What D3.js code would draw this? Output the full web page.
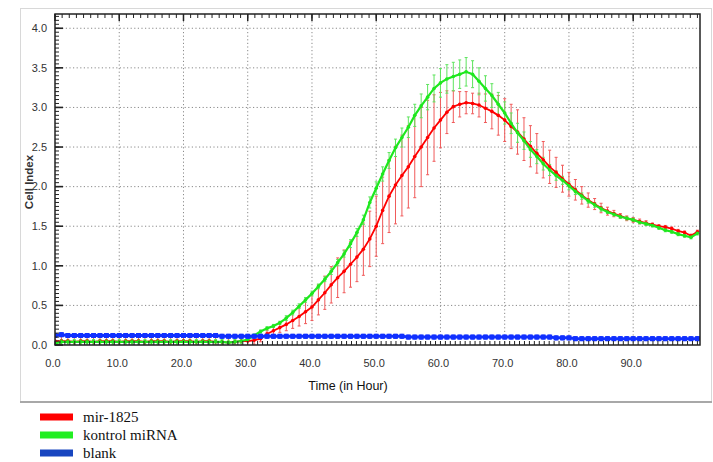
<!DOCTYPE html>
<html>
<head>
<meta charset="utf-8">
<script src="https://cdn.jsdelivr.net/npm/d3@7"></script>
<style>
  body { margin: 0; background: #fff; }
  svg { display: block; }
  .tick-label { font-family: "Liberation Sans Narrow", "Arial Narrow", "Liberation Sans", sans-serif; font-size: 11px; fill: #333; }
</style>
</head>
<body>
<script>
//time points, one per hour
var hours = d3.range(0, 101, 1);

//mir-1825 cell index (mean) and its error bars
var mirMean = [
  0.05,0.05,0.05,0.04,0.05,0.05,0.04,0.05,0.05,0.05,
  0.04,0.05,0.05,0.05,0.04,0.05,0.05,0.05,0.04,0.05,
  0.05,0.05,0.04,0.05,0.05,0.04,0.04,0.03,0.04,0.05,
  0.05,0.06,0.08,0.14,0.18,0.22,0.26,0.31,0.36,0.42,
  0.48,0.57,0.66,0.76,0.85,0.93,1.02,1.11,1.21,1.34,
  1.50,1.70,1.88,2.02,2.14,2.25,2.38,2.50,2.62,2.74,
  2.84,2.94,3.01,3.04,3.06,3.05,3.03,2.99,2.95,2.90,
  2.84,2.76,2.69,2.60,2.51,2.42,2.34,2.25,2.18,2.10,
  2.03,1.96,1.89,1.83,1.78,1.73,1.69,1.66,1.63,1.60,
  1.58,1.56,1.54,1.52,1.50,1.49,1.47,1.44,1.42,1.38,1.43
];
var mirErr = [
  0.07,0.07,0.07,0.07,0.07,0.07,0.07,0.07,0.07,0.07,
  0.07,0.07,0.07,0.07,0.07,0.07,0.07,0.07,0.07,0.07,
  0.07,0.07,0.07,0.07,0.07,0.07,0.07,0.07,0.07,0.07,
  0.06,0.05,0.04,0.04,0.05,0.06,0.08,0.10,0.12,0.15,
  0.17,0.19,0.21,0.23,0.25,0.27,0.29,0.31,0.33,0.35,
  0.38,0.42,0.46,0.49,0.51,0.52,0.52,0.50,0.47,0.42,
  0.35,0.27,0.20,0.16,0.14,0.13,0.15,0.18,0.22,0.25,
  0.27,0.28,0.28,0.27,0.26,0.25,0.23,0.21,0.19,0.17,
  0.15,0.13,0.11,0.09,0.07,0.06,0.05,0.04,0.03,0.03,
  0.03,0.03,0.03,0.02,0.02,0.02,0.02,0.02,0.02,0.02,0.02
];

//kontrol miRNA
var kontrolMean = [
  0.02,0.04,0.04,0.04,0.04,0.04,0.04,0.04,0.04,0.04,
  0.04,0.04,0.04,0.04,0.04,0.04,0.04,0.04,0.04,0.04,
  0.04,0.04,0.04,0.04,0.04,0.04,0.04,0.03,0.04,0.05,
  0.07,0.12,0.17,0.21,0.24,0.28,0.34,0.41,0.49,0.57,
  0.65,0.74,0.83,0.93,1.04,1.15,1.28,1.42,1.58,1.80,
  1.98,2.16,2.33,2.49,2.62,2.75,2.90,3.02,3.13,3.24,
  3.31,3.36,3.39,3.42,3.45,3.42,3.33,3.24,3.15,3.04,
  2.93,2.80,2.68,2.58,2.47,2.38,2.29,2.21,2.14,2.08,
  2.01,1.94,1.88,1.82,1.77,1.72,1.68,1.65,1.62,1.60,
  1.58,1.55,1.53,1.51,1.48,1.45,1.43,1.40,1.38,1.36,1.41
];
var kontrolErr = [
  0.03,0.03,0.03,0.03,0.03,0.03,0.03,0.03,0.03,0.03,
  0.03,0.03,0.03,0.03,0.03,0.03,0.03,0.03,0.03,0.03,
  0.03,0.03,0.03,0.03,0.03,0.03,0.03,0.03,0.03,0.03,
  0.02,0.02,0.02,0.02,0.02,0.02,0.03,0.03,0.03,0.03,
  0.03,0.03,0.03,0.04,0.04,0.04,0.05,0.05,0.06,0.07,
  0.08,0.09,0.10,0.11,0.12,0.13,0.14,0.15,0.16,0.17,
  0.18,0.18,0.18,0.18,0.18,0.17,0.17,0.16,0.15,0.15,
  0.14,0.13,0.12,0.11,0.10,0.09,0.08,0.07,0.06,0.05,
  0.05,0.04,0.04,0.03,0.03,0.03,0.02,0.02,0.02,0.02,
  0.02,0.02,0.02,0.02,0.02,0.02,0.02,0.02,0.02,0.02,0.02
];

//blank wells
var blankMean = [
  0.12,0.13,0.12,0.12,0.12,0.12,0.12,0.12,0.12,0.12,
  0.12,0.12,0.12,0.12,0.12,0.12,0.12,0.12,0.12,0.12,
  0.12,0.12,0.12,0.12,0.12,0.12,0.11,0.11,0.11,0.11,
  0.11,0.11,0.11,0.11,0.11,0.11,0.11,0.11,0.11,0.11,
  0.11,0.11,0.11,0.11,0.11,0.11,0.11,0.11,0.11,0.11,
  0.11,0.11,0.11,0.11,0.11,0.10,0.10,0.10,0.10,0.10,
  0.10,0.10,0.10,0.10,0.10,0.10,0.10,0.10,0.10,0.10,
  0.10,0.10,0.10,0.10,0.10,0.10,0.10,0.10,0.09,0.09,
  0.09,0.08,0.08,0.08,0.08,0.08,0.08,0.08,0.08,0.08,
  0.08,0.08,0.08,0.08,0.08,0.08,0.08,0.08,0.08,0.08,0.08
];
var blankErr = 0.025;

var seriesNames = ["mir-1825", "kontrol miRNA", "blank"];
var xTicks = [0, 10, 20, 30, 40, 50, 60, 70, 80, 90];
var yTicks = [0, 0.5, 1.0, 1.5, 2.0, 2.5, 3.0, 3.5, 4.0];

window.onload = function(){
  var w = 713, h = 462;
  var fmt = d3.format(".1f");

  var svg = d3.select("body").append("svg")
      .attr("width", w)
      .attr("height", h);

  //outer light frame
  svg.append("rect")
      .attr("x", 20.5).attr("y", 8.5)
      .attr("width", 691).attr("height", 393)
      .style("fill", "none")
      .style("stroke", "#d8d8d8");
  svg.append("line")
      .attr("x1", 20).attr("x2", 712)
      .attr("y1", 402).attr("y2", 402)
      .style("stroke", "#a8a8a8")
      .style("stroke-width", 2);

  //scales
  var x = d3.scaleLinear().domain([0, 100.4]).range([55, 700]);
  var y = d3.scaleLinear().domain([0, 4.18]).range([345, 14]);

  //grid lines (dotted)
  var grid = svg.append("g").attr("class", "grid");
  grid.selectAll(".vgrid")
      .data(xTicks.slice(1))
      .enter().append("line")
      .attr("x1", function(d){ return x(d); })
      .attr("x2", function(d){ return x(d); })
      .attr("y1", y.range()[1]).attr("y2", y.range()[0])
      .style("stroke", "#8a8a8a")
      .style("stroke-dasharray", "1.2,2.4");
  grid.selectAll(".hgrid")
      .data(yTicks.slice(1))
      .enter().append("line")
      .attr("x1", x.range()[0]).attr("x2", x.range()[1])
      .attr("y1", function(d){ return y(d); })
      .attr("y2", function(d){ return y(d); })
      .style("stroke", "#8a8a8a")
      .style("stroke-dasharray", "1.2,2.4");

  //clip so error bars stay inside the plot
  svg.append("clipPath").attr("id", "plotclip")
    .append("rect")
      .attr("x", 55).attr("y", 14)
      .attr("width", 645).attr("height", 331);

  var plot = svg.append("g").attr("clip-path", "url(#plotclip)");

  function makeRows(means, errs){
    return hours.map(function(t, i){
      return { t: t, v: means[i], e: (typeof errs === "number") ? errs : errs[i] };
    });
  }
  var mirRows = makeRows(mirMean, mirErr);
  var kontrolRows = makeRows(kontrolMean, kontrolErr);
  var blankRows = makeRows(blankMean, blankErr);

  //error bars with little caps
  function errorBars(rows, color, cls){
    var g = plot.append("g").attr("class", cls);
    var bars = g.selectAll("g").data(rows).enter().append("g");
    bars.append("line")
        .attr("x1", function(d){ return x(d.t); })
        .attr("x2", function(d){ return x(d.t); })
        .attr("y1", function(d){ return y(d.v + d.e); })
        .attr("y2", function(d){ return y(d.v - d.e); })
        .style("stroke", color)
        .style("stroke-width", 1);
    bars.append("line")
        .attr("x1", function(d){ return x(d.t) - 1.5; })
        .attr("x2", function(d){ return x(d.t) + 1.5; })
        .attr("y1", function(d){ return y(d.v + d.e); })
        .attr("y2", function(d){ return y(d.v + d.e); })
        .style("stroke", color);
    bars.append("line")
        .attr("x1", function(d){ return x(d.t) - 1.5; })
        .attr("x2", function(d){ return x(d.t) + 1.5; })
        .attr("y1", function(d){ return y(d.v - d.e); })
        .attr("y2", function(d){ return y(d.v - d.e); })
        .style("stroke", color);
  }
  errorBars(mirRows, "#f05a5a", "err-mir");
  errorBars(kontrolRows, "#5ee45e", "err-kontrol");

  var line = d3.line()
      .x(function(d){ return x(d.t); })
      .y(function(d){ return y(d.v); });

  //mean lines with small dot markers
  function series(rows, color, width, marker){
    plot.append("path")
        .datum(rows)
        .attr("d", line)
        .style("fill", "none")
        .style("stroke", color)
        .style("stroke-width", width);
    if(marker === "square"){
      plot.selectAll(null).data(rows).enter().append("rect")
          .attr("x", function(d){ return x(d.t) - 2.5; })
          .attr("y", function(d){ return y(d.v) - 2.5; })
          .attr("width", 5).attr("height", 5)
          .style("fill", color);
    } else {
      plot.selectAll(null).data(rows).enter().append("circle")
          .attr("cx", function(d){ return x(d.t); })
          .attr("cy", function(d){ return y(d.v); })
          .attr("r", 1.8)
          .style("fill", color);
    }
  }
  series(mirRows, "#ff0000", 1.8, "dot");
  series(kontrolRows, "#1ee81e", 2.2, "dot");
  errorBars(blankRows, "#2a3cff", "err-blank");
  series(blankRows, "#1030ff", 3, "square");

  //plot border
  svg.append("rect")
      .attr("x", 55).attr("y", 14)
      .attr("width", 645).attr("height", 331)
      .style("fill", "none")
      .style("stroke", "#222")
      .style("stroke-width", 1.5);

  //minor ticks on top and bottom (pointing inward)
  var minorX = d3.range(0, 100.4, 10 / 9);
  svg.append("g").selectAll("line").data(minorX).enter().append("line")
      .attr("x1", function(d){ return x(d); }).attr("x2", function(d){ return x(d); })
      .attr("y1", 14).attr("y2", 18)
      .style("stroke", "#222");
  svg.append("g").selectAll("line").data(d3.range(0, 100.4, 10 / 13)).enter().append("line")
      .attr("x1", function(d){ return x(d); }).attr("x2", function(d){ return x(d); })
      .attr("y1", 345).attr("y2", 341)
      .style("stroke", "#222");
  svg.append("g").selectAll("line").data(xTicks).enter().append("line")
      .attr("x1", function(d){ return x(d); }).attr("x2", function(d){ return x(d); })
      .attr("y1", 14).attr("y2", 21)
      .style("stroke", "#222")
      .style("stroke-width", 1.5);

  //left axis ticks
  var minorY = d3.range(0, 4.18, 0.05);
  svg.append("g").selectAll("line").data(minorY).enter().append("line")
      .attr("x1", 55).attr("x2", 59)
      .attr("y1", function(d){ return y(d); }).attr("y2", function(d){ return y(d); })
      .style("stroke", "#222");
  svg.append("g").selectAll("line").data(yTicks).enter().append("line")
      .attr("x1", 55).attr("x2", 63)
      .attr("y1", function(d){ return y(d); }).attr("y2", function(d){ return y(d); })
      .style("stroke", "#222")
      .style("stroke-width", 1.6);

  //tick labels
  svg.append("g").selectAll("text").data(yTicks).enter().append("text")
      .attr("class", "tick-label")
      .attr("x", 47)
      .attr("y", function(d){ return y(d); })
      .attr("dy", "0.35em")
      .attr("text-anchor", "end")
      .text(function(d){ return fmt(d); });
  svg.append("g").selectAll("text").data(xTicks).enter().append("text")
      .attr("class", "tick-label")
      .attr("x", function(d){ return x(d) - 2; })
      .attr("y", 363)
      .attr("dy", "0.35em")
      .attr("text-anchor", "middle")
      .text(function(d){ return fmt(d); });

  //axis titles
  svg.append("text")
      .attr("class", "tick-label")
      .attr("x", 348).attr("y", 390)
      .attr("text-anchor", "middle")
      .style("font-size", "12.5px")
      .style("fill", "#111")
      .text("Time (in Hour)");
  svg.append("text")
      .attr("class", "tick-label")
      .attr("transform", "translate(33,182) rotate(-90)")
      .attr("text-anchor", "middle")
      .style("font-weight", "bold")
      .style("font-size", "11.5px")
      .text("Cell Index");

  //legend
  var legendColors = ["#ff0000", "#22ee22", "#1846c0"];
  var legend = svg.selectAll(".legend")
      .data(seriesNames)
      .enter().append("g")
      .attr("class", "legend")
      .attr("transform", function(d, i){ return "translate(40," + (417 + i * 18) + ")"; });
  legend.append("rect")
      .attr("x", 0).attr("y", -3.5)
      .attr("width", 33).attr("height", 7)
      .style("fill", function(d, i){ return legendColors[i]; });
  legend.append("text")
      .attr("x", 43).attr("y", 0)
      .attr("dy", "0.35em")
      .style("font-family", "'Liberation Serif', 'DejaVu Serif', 'Times New Roman', serif")
      .style("font-size", "15px")
      .style("fill", "#111")
      .text(function(d){ return d; });
};
</script>
</body>
</html>
